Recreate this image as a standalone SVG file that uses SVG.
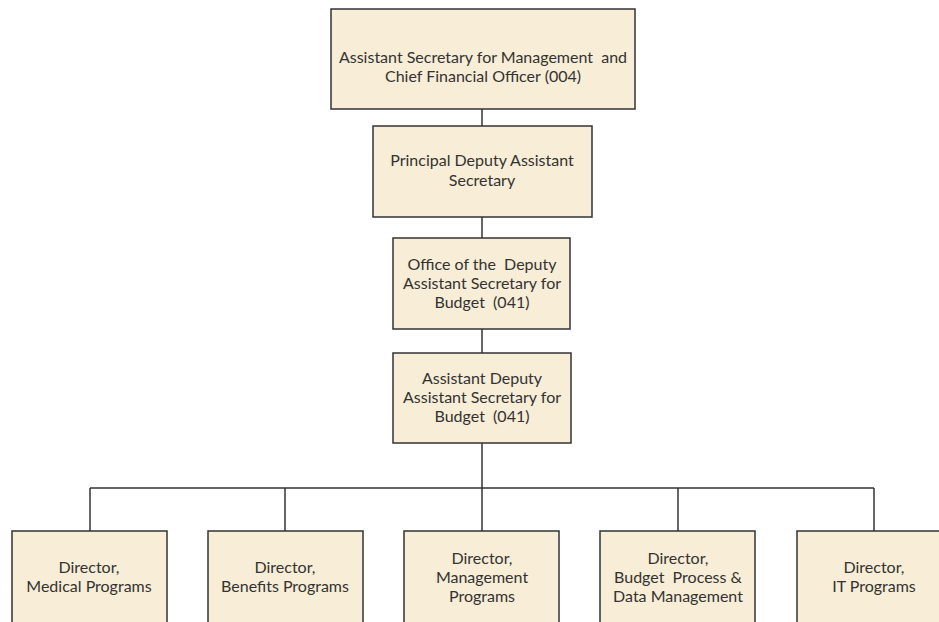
<svg xmlns="http://www.w3.org/2000/svg" width="939" height="622" viewBox="0 0 939 622">
<style>
.box{fill:#F8EDD6;stroke:#333333;stroke-width:1.5}
.t{font-family:Lato,"Open Sans","Liberation Sans",sans-serif;font-size:16px;fill:#333333;text-anchor:middle;white-space:pre}
.c{fill:none;stroke:#333333;stroke-width:1.5}
</style>
<rect width="939" height="622" fill="#ffffff"/>
<g id="connectors">
<line class="c" x1="482" y1="109" x2="482" y2="126"/>
<line class="c" x1="482" y1="217" x2="482" y2="238"/>
<line class="c" x1="482" y1="329" x2="482" y2="353"/>
<line class="c" x1="482" y1="443" x2="482" y2="531"/>
<line class="c" x1="90" y1="488" x2="874" y2="488"/>
<line class="c" x1="90" y1="488" x2="90" y2="531"/>
<line class="c" x1="285" y1="488" x2="285" y2="531"/>
<line class="c" x1="678" y1="488" x2="678" y2="531"/>
<line class="c" x1="874" y1="488" x2="874" y2="531"/>
</g>
<g id="asmcfo">
<rect class="box" x="331" y="9" width="304" height="100"/>
<text class="t" x="483" y="63" xml:space="preserve">Assistant Secretary for Management  and</text>
<text class="t" x="483" y="82">Chief Financial Officer (004)</text>
</g>
<g id="pdas">
<rect class="box" x="373" y="126" width="219" height="91"/>
<text class="t" x="482" y="166">Principal Deputy Assistant</text>
<text class="t" x="482" y="186">Secretary</text>
</g>
<g id="odasb">
<rect class="box" x="393" y="238" width="177" height="91"/>
<text class="t" x="482" y="270" xml:space="preserve">Office of the  Deputy</text>
<text class="t" x="482" y="289">Assistant Secretary for</text>
<text class="t" x="482" y="308" xml:space="preserve">Budget  (041)</text>
</g>
<g id="adasb">
<rect class="box" x="393" y="353" width="178" height="90"/>
<text class="t" x="482" y="384">Assistant Deputy</text>
<text class="t" x="482" y="403">Assistant Secretary for</text>
<text class="t" x="482" y="422" xml:space="preserve">Budget  (041)</text>
</g>
<g id="medical">
<rect class="box" x="12" y="531" width="155" height="100"/>
<text class="t" x="89" y="573">Director,</text>
<text class="t" x="89" y="592">Medical Programs</text>
</g>
<g id="benefits">
<rect class="box" x="208" y="531" width="155" height="100"/>
<text class="t" x="285" y="573">Director,</text>
<text class="t" x="285" y="592">Benefits Programs</text>
</g>
<g id="management">
<rect class="box" x="404" y="531" width="155" height="100"/>
<text class="t" x="482" y="564">Director,</text>
<text class="t" x="482" y="583">Management</text>
<text class="t" x="482" y="602">Programs</text>
</g>
<g id="budgetprocess">
<rect class="box" x="600" y="531" width="155" height="100"/>
<text class="t" x="678" y="564">Director,</text>
<text class="t" x="678" y="583" xml:space="preserve">Budget  Process &amp;</text>
<text class="t" x="678" y="602">Data Management</text>
</g>
<g id="it">
<rect class="box" x="797" y="531" width="155" height="100"/>
<text class="t" x="874" y="573">Director,</text>
<text class="t" x="874" y="592">IT Programs</text>
</g>
</svg>
